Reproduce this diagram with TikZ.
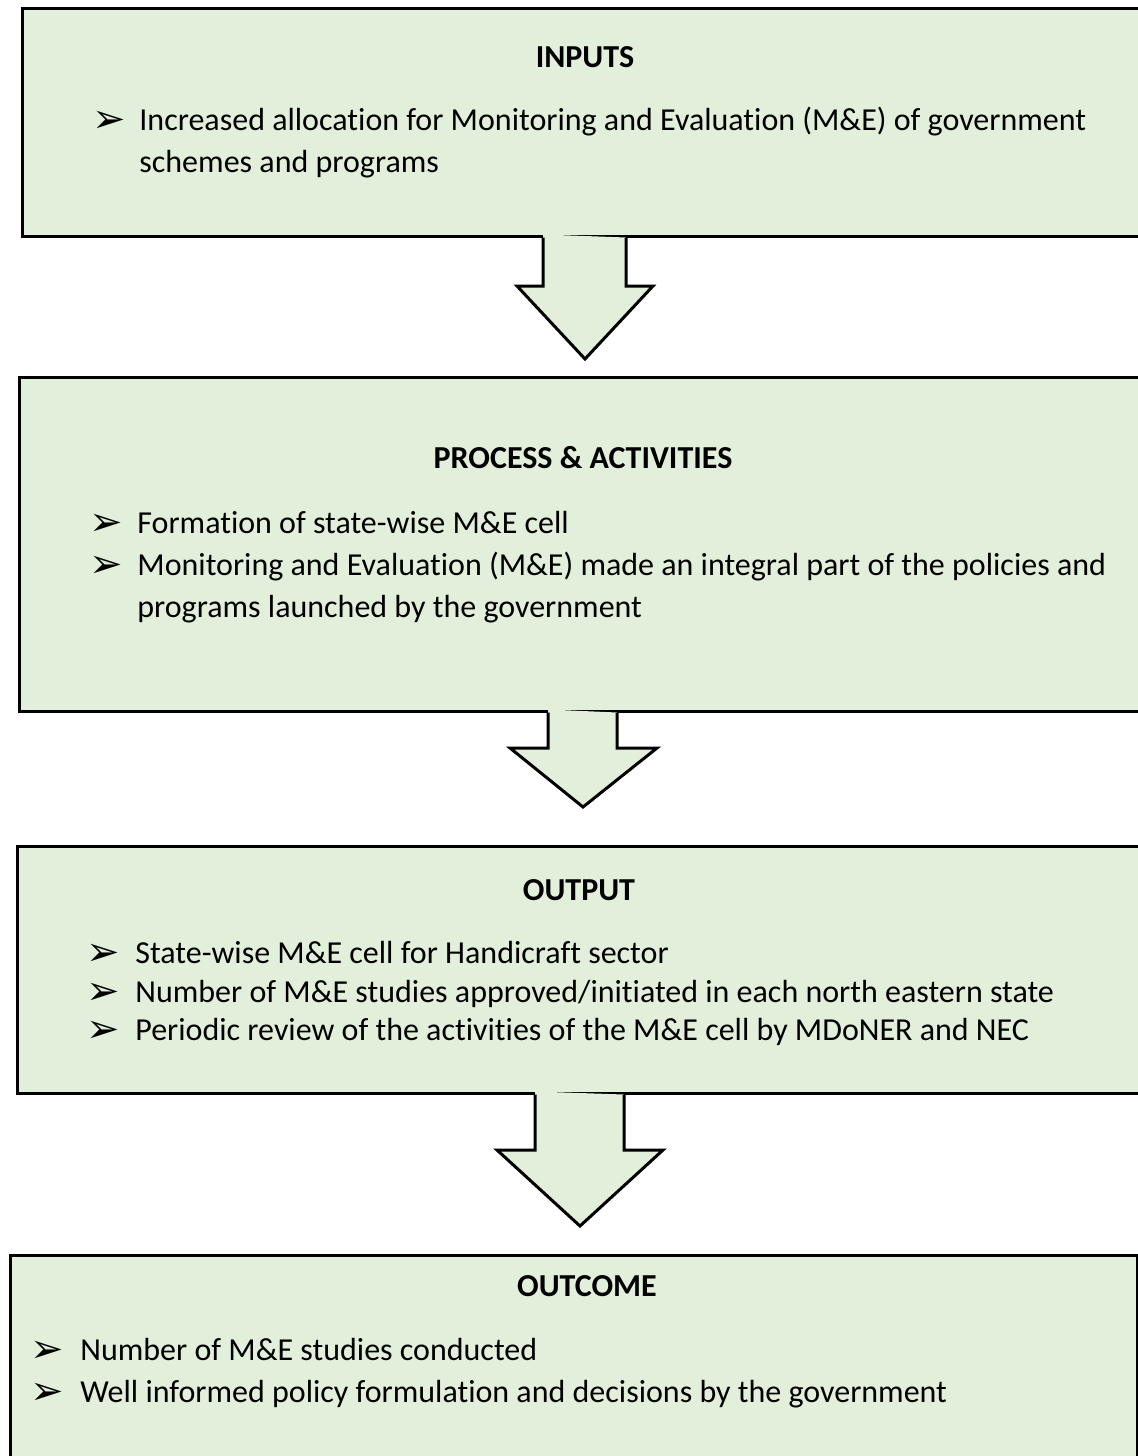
\documentclass[tikz,border=0pt]{standalone}
\usepackage{fontspec}
\setmainfont{Carlito}[Ligatures=NoCommon]
\newfontfamily\dingfont{DejaVu Sans}
\usetikzlibrary{fit}
\definecolor{panelgreen}{RGB}{226,239,218}
\tikzset{
  panel/.style={draw=black, fill=panelgreen, line width=1.5pt, inner sep=0pt},
  arrowbody/.style={fill=panelgreen},
  arrowedge/.style={draw=black, line width=1.5pt, line join=miter},
  heading/.style={font=\fontsize{16}{19}\selectfont\bfseries, anchor=base, inner sep=0pt},
  itemtext/.style={font=\fontsize{16}{19}\selectfont, anchor=base west, inner sep=0pt},
  bulletmark/.style={font=\dingfont\fontsize{20}{22}\selectfont, anchor=base west, inner sep=0pt, yshift=-1pt},
}
\begin{document}
\begin{tikzpicture}[x=0.5pt,y=-0.5pt]
\useasboundingbox (0,0) rectangle (1138,1456);
\clip (0,0) rectangle (1138,1456);
\fill[white] (0,0) rectangle (1138,1456);

% the four stage panels
\node[panel, fit={(22,8) (1160,236)}] (inputs) {};
\node[panel, fit={(19,377) (1160,711)}] (process) {};
\node[panel, fit={(17,846) (1160,1093)}] (output) {};
\node[panel, fit={(10,1255) (1137,1475)}] (outcome) {};

% block arrows between the panels
\path[arrowbody] (543,0 |- inputs.south) ++(0,-3) -- (543,286) -- (517,286) -- (585,359) -- (653,286) -- (626,286) -- (626,0 |- inputs.south) ++(0,-3) -- cycle;
\draw[arrowedge] (543,0 |- inputs.south) -- (543,286) -- (517,286) -- (585,359) -- (653,286) -- (626,286) -- (626,0 |- inputs.south);

\path[arrowbody] (548,0 |- process.south) ++(0,-3) -- (548,748) -- (510,748) -- (583,807) -- (657,748) -- (617,748) -- (617,0 |- process.south) ++(0,-3) -- cycle;
\draw[arrowedge] (548,0 |- process.south) -- (548,748) -- (510,748) -- (583,807) -- (657,748) -- (617,748) -- (617,0 |- process.south);

\path[arrowbody] (535,0 |- output.south) ++(0,-3) -- (535,1150) -- (497,1150) -- (580,1226) -- (663,1150) -- (624,1150) -- (624,0 |- output.south) ++(0,-3) -- cycle;
\draw[arrowedge] (535,0 |- output.south) -- (535,1150) -- (497,1150) -- (580,1226) -- (663,1150) -- (624,1150) -- (624,0 |- output.south);

% INPUTS
\node[heading] (h1) at (585,67) {INPUTS};
\node[bulletmark] (b11) at (92,130) {➢};
\node[itemtext] (t11) at (139,130) {Increased allocation for Monitoring and Evaluation (M\&E) of government};
\node[itemtext] (t12) at (139,172) {schemes and programs};

% PROCESS & ACTIVITIES
\node[heading] (h2) at (583,468) {PROCESS \& ACTIVITIES};
\node[bulletmark] (b21) at (89,533) {➢};
\node[itemtext] (t21) at (137,533) {Formation of state-wise M\&E cell};
\node[bulletmark] (b22) at (89,575) {➢};
\node[itemtext] (t22) at (137,575) {Monitoring and Evaluation (M\&E) made an integral part of the policies and};
\node[itemtext] (t23) at (137,617) {programs launched by the government};

% OUTPUT
\node[heading] (h3) at (579,900) {OUTPUT};
\node[bulletmark] (b31) at (86,963) {➢};
\node[itemtext] (t31) at (135,963) {State-wise M\&E cell for Handicraft sector};
\node[bulletmark] (b32) at (86,1002) {➢};
\node[itemtext] (t32) at (135,1002) {Number of M\&E studies approved/initiated in each north eastern state};
\node[bulletmark] (b33) at (86,1040) {➢};
\node[itemtext] (t33) at (135,1040) {Periodic review of the activities of the M\&E cell by MDoNER and NEC};

% OUTCOME
\node[heading] (h4) at (587,1296) {OUTCOME};
\node[bulletmark] (b41) at (30,1360) {➢};
\node[itemtext] (t41) at (80,1360) {Number of M\&E studies conducted};
\node[bulletmark] (b42) at (30,1402) {➢};
\node[itemtext] (t42) at (80,1402) {Well informed policy formulation and decisions by the government};
\end{tikzpicture}
\end{document}
